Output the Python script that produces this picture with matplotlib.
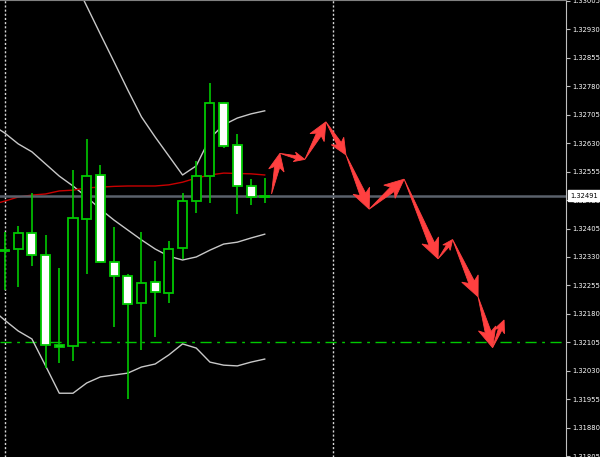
import numpy as np
import matplotlib.pyplot as plt
from matplotlib.patches import Polygon
from matplotlib.transforms import IdentityTransform, blended_transform_factory

# candles (bar index 0..19)
opens  = [1.32345, 1.32351, 1.32393, 1.32335, 1.32098, 1.32095, 1.32430, 1.32546, 1.32317, 1.32280,
          1.32209, 1.32264, 1.32235, 1.32354, 1.32477, 1.32543, 1.32736, 1.32625, 1.32517, 1.32489]
highs  = [1.32396, 1.32412, 1.32498, 1.32388, 1.32301, 1.32559, 1.32641, 1.32572, 1.32409, 1.32285,
          1.32396, 1.32319, 1.32372, 1.32498, 1.32583, 1.32788, 1.32738, 1.32654, 1.32535, 1.32538]
lows   = [1.32243, 1.32251, 1.32306, 1.32037, 1.32051, 1.32056, 1.32285, 1.32314, 1.32145, 1.31956,
          1.32085, 1.32119, 1.32209, 1.32325, 1.32446, 1.32472, 1.32617, 1.32443, 1.32467, 1.32472]
closes = [1.32349, 1.32393, 1.32335, 1.32098, 1.32094, 1.32433, 1.32543, 1.32317, 1.32280, 1.32206,
          1.32261, 1.32238, 1.32351, 1.32477, 1.32543, 1.32736, 1.32622, 1.32517, 1.32488, 1.32491]

# indicator lines (bar index -1..19)
line_x   = list(range(-1, 20))
bb_upper = [1.33192, 1.33178, 1.33165, 1.33152, 1.33139, 1.33112, 1.33065, 1.32991, 1.32917, 1.32844, 1.32770,
            1.32699, 1.32646, 1.32596, 1.32546, 1.32570, 1.32643, 1.32678, 1.32696, 1.32707, 1.32715]
bb_mid   = [1.32680, 1.32657, 1.32628, 1.32607, 1.32575, 1.32543, 1.32517, 1.32488, 1.32456, 1.32427, 1.32401,
            1.32375, 1.32351, 1.32332, 1.32322, 1.32330, 1.32348, 1.32364, 1.32369, 1.32380, 1.32390]
bb_lower = [1.32195, 1.32164, 1.32135, 1.32114, 1.32043, 1.31971, 1.31971, 1.31998, 1.32014, 1.32019, 1.32024,
            1.32040, 1.32048, 1.32072, 1.32101, 1.32090, 1.32053, 1.32045, 1.32043, 1.32053, 1.32061]
ma_red   = [1.32467, 1.32477, 1.32488, 1.32493, 1.32496, 1.32504, 1.32506, 1.32512, 1.32514, 1.32516, 1.32517,
            1.32517, 1.32517, 1.32520, 1.32527, 1.32538, 1.32546, 1.32551, 1.32550, 1.32549, 1.32546]

# forecast path drawn with red arrows
path_x = [19.50, 20.11, 21.93, 23.47, 24.93, 26.63, 29.18, 31.66, 32.72, 34.58, 35.64, 36.48]
path_y = [1.32496, 1.32603, 1.32587, 1.32686, 1.32599, 1.32456, 1.32535, 1.32325, 1.32376, 1.32225, 1.32091, 1.32164]

bid = 1.32491
level = 1.32105
separators = [0, 24]
yticks = [round(1.31805 + 0.00075 * k, 5) for k in range(17)]

green = '#00c800'

fig = plt.figure(figsize=(6, 4.57), dpi=100, facecolor='black')
ax = fig.add_axes([0, 0, 566 / 600, 1])
ax.set_facecolor('black')
ax.set_xlim(-0.33, 41.0)
ax.set_ylim(1.31803, 1.33007)

# separators, levels
for sx in separators:
    ax.axvline(sx, color='#d8d8d8', lw=1, ls=(0, (1.5, 1.5)), zorder=1)
ax.axhline(level, color=green, lw=1, ls=(0, (8, 4, 2, 4)), zorder=1)

# bollinger + ma
ax.plot(line_x, bb_upper, color='#c8c8c8', lw=1, zorder=2)
ax.plot(line_x, bb_mid, color='#c8c8c8', lw=1, zorder=2)
ax.plot(line_x, bb_lower, color='#c8c8c8', lw=1, zorder=2)
ax.plot(line_x, ma_red, color='#c80000', lw=1, zorder=2)

ax.axhline(bid, color='#5a616b', lw=1.8, zorder=2.2)

# candles
idx = np.arange(len(opens))
o = np.array(opens); c = np.array(closes)
ax.vlines(idx, lows, highs, color=green, lw=1.2, zorder=3)
body_lo = np.minimum(o, c)
body_h = np.maximum(np.abs(c - o), 0.00002)
fills = ['white' if cc < oo else 'black' for oo, cc in zip(opens, closes)]
ax.bar(idx, body_h, bottom=body_lo, width=0.66, color=fills, edgecolor=green, lw=1.3, zorder=4)

# arrows, built in pixel space
def arrow_poly(p0, p1):
    d = p1 - p0
    L = np.hypot(*d)
    u = d / L
    n = np.array([-u[1], u[0]])
    h = min(0.42 * L, 20)
    w = 0.45 * h
    s = 0.15 * h
    base = p0 + u * (L - 0.8 * h)
    barb = p0 + u * (L - h)
    return [p0, base + n * s, barb + n * w, p1, barb - n * w, base - n * s]

pts = ax.transData.transform(np.column_stack([path_x, path_y]))
for i in range(len(pts) - 1):
    ax.add_patch(Polygon(arrow_poly(pts[i], pts[i + 1]), closed=True, facecolor='#ff4040',
                         edgecolor='#ff4040', lw=0.6, transform=IdentityTransform(), zorder=5))

# right price scale
ax.yaxis.tick_right()
ax.set_yticks(yticks)
ax.set_yticklabels(['%.5f' % t for t in yticks])
ax.tick_params(axis='y', direction='out', length=3, width=0.8, colors='#c0c0c0',
               labelcolor='white', labelsize=4.9, pad=1.5)
ax.set_xticks([])
for side in ['left', 'bottom']:
    ax.spines[side].set_visible(False)
ax.spines['right'].set_color('#c0c0c0')
ax.spines['top'].set_color('#808080')

trans = blended_transform_factory(ax.transAxes, ax.transData)
ax.text(1.008, bid, '%.5f' % bid, transform=trans, va='center', ha='left', fontsize=4.9,
        color='black', zorder=10, clip_on=False,
        bbox=dict(boxstyle='square,pad=0.35', facecolor='white', edgecolor='white'))

plt.savefig('out.png', dpi=100, facecolor='black')
